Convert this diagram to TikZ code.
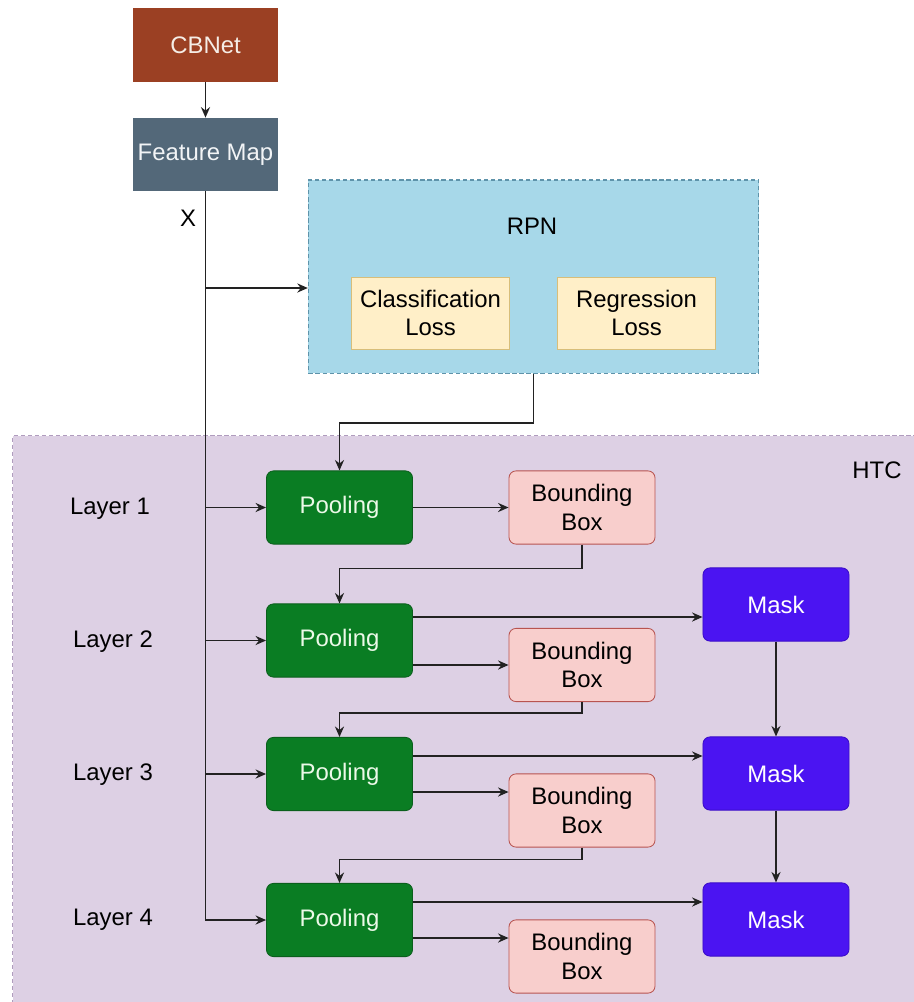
\documentclass[tikz,border=0pt]{standalone}
\usepackage{fontspec}
\setmainfont{Liberation Sans}
\usetikzlibrary{arrows.meta}

\definecolor{cbnetfill}{HTML}{9B4023}
\definecolor{cbnettext}{HTML}{F5EDE6}
\definecolor{fmapfill}{HTML}{536879}
\definecolor{fmaptext}{HTML}{F2F4F6}
\definecolor{rpnfill}{HTML}{A7D8E9}
\definecolor{rpnline}{HTML}{5E93AA}
\definecolor{lossfill}{HTML}{FFEFC8}
\definecolor{lossline}{HTML}{D8BE7A}
\definecolor{htcfill}{HTML}{DDD0E4}
\definecolor{htcline}{HTML}{B09CBE}
\definecolor{poolfill}{HTML}{0A7D23}
\definecolor{poolline}{HTML}{0A5F1C}
\definecolor{pooltext}{HTML}{ECF9E8}
\definecolor{bbfill}{HTML}{F8CECC}
\definecolor{bbline}{HTML}{B85450}
\definecolor{maskfill}{HTML}{4B14F2}
\definecolor{maskline}{HTML}{3A0CC8}
\definecolor{wire}{HTML}{222222}

\tikzset{
  every node/.style={font=\fontsize{17}{20.5}\selectfont, align=center, inner sep=0pt},
  sqbox/.style={draw=none, minimum width=3.63cm, minimum height=1.83cm},
  lossbox/.style={fill=lossfill, draw=lossline, line width=0.6pt, minimum width=3.93cm, minimum height=1.8cm},
  poolbox/.style={fill=poolfill, draw=poolline, line width=0.6pt, rounded corners=5pt,
    minimum width=3.65cm, minimum height=1.83cm, text=pooltext},
  bbbox/.style={fill=bbfill, draw=bbline, line width=0.6pt, rounded corners=5pt,
    minimum width=3.65cm, minimum height=1.83cm},
  maskbox/.style={fill=maskfill, draw=maskline, line width=0.6pt, rounded corners=5pt,
    minimum width=3.65cm, minimum height=1.83cm, text=white},
  wireline/.style={draw=wire, line width=1.1pt},
  arr/.style={wireline, -{Stealth[length=7.5pt, width=6.5pt, inset=2.5pt]}},
  label/.style={text=black},
}

\begin{document}
\begin{tikzpicture}[x=0.025cm, y=-0.025cm]
\useasboundingbox (0,0) rectangle (914,1002);
\clip (0,0) rectangle (914,1002);
\fill[white] (0,0) rectangle (914,1002);

% HTC container
\node[fill=htcfill, draw=htcline, line width=0.9pt, dash pattern=on 3pt off 2pt,
      minimum width=22.6cm, minimum height=14.5cm, anchor=north west] (htc) at (12,435) {};
\node[label] (htclabel) at (877,470) {HTC};

% backbone
\node[sqbox, fill=cbnetfill, minimum height=1.85cm, text=cbnettext] (cbnet) at (205.5,45) {CBNet};
\node[sqbox, fill=fmapfill, text=fmaptext] (fmap) at (205.5,154.5) {Feature Map};
\node[label] (xlabel) at (188,218) {X};

% RPN container
\node[fill=rpnfill, draw=rpnline, line width=0.9pt, dash pattern=on 3pt off 2pt,
      minimum width=11.25cm, minimum height=4.83cm] (rpn) at (533.5,276.5) {};
\node[label] (rpnlabel) at (532,226) {RPN};
\node[lossbox] (cls) at (430.5,313) {Classification\\Loss};
\node[lossbox] (reg) at (636.5,313) {Regression\\Loss};

% layer labels
\node[label] (l1) at (110,509) {Layer 1};
\node[label] (l2) at (113,642) {Layer 2};
\node[label] (l3) at (113,775) {Layer 3};
\node[label] (l4) at (113,920) {Layer 4};

% pooling stages
\node[poolbox] (pool1) at (339.5,507.5) {Pooling};
\node[poolbox] (pool2) at (339.5,640.5) {Pooling};
\node[poolbox] (pool3) at (339.5,774) {Pooling};
\node[poolbox] (pool4) at (339.5,920) {Pooling};

% bounding box heads
\node[bbbox] (bb1) at (582,507.5) {Bounding\\Box};
\node[bbbox] (bb2) at (582,665) {Bounding\\Box};
\node[bbbox] (bb3) at (582,810.5) {Bounding\\Box};
\node[bbbox] (bb4) at (582,956.5) {Bounding\\Box};

% mask heads
\node[maskbox] (mask1) at (776,604.5) {Mask};
\node[maskbox] (mask2) at (776,773.5) {Mask};
\node[maskbox] (mask3) at (776,919.5) {Mask};

% backbone flow
\draw[arr] (cbnet) -- (fmap);
\draw[arr] (fmap.south) |- (pool4.west);
\draw[arr] (fmap.south |- 0,288) -- (rpn.west |- 0,288);
\draw[arr] (fmap.south |- pool1.west) -- (pool1.west);
\draw[arr] (fmap.south |- pool2.west) -- (pool2.west);
\draw[arr] (fmap.south |- pool3.west) -- (pool3.west);

% proposals into the cascade
\draw[arr] (rpn.south) -- ++(0,49) -| (pool1.north);
\draw[arr] (bb1.south) -- ++(0,24) -| (pool2.north);
\draw[arr] (bb2.south) -- ++(0,11) -| (pool3.north);
\draw[arr] (bb3.south) -- ++(0,12) -| (pool4.north);

% pooling to heads
\draw[arr] (pool1) -- (bb1);
\draw[arr] (pool2.east |- 0,617) -- (mask1.west |- 0,617);
\draw[arr] (pool2.east |- bb2.west) -- (bb2.west);
\draw[arr] (pool3.east |- 0,756) -- (mask2.west |- 0,756);
\draw[arr] (pool3.east |- 0,792) -- (bb3.west |- 0,792);
\draw[arr] (pool4.east |- 0,902) -- (mask3.west |- 0,902);
\draw[arr] (pool4.east |- 0,938) -- (bb4.west |- 0,938);

% mask information flow
\draw[arr] (mask1) -- (mask2);
\draw[arr] (mask2) -- (mask3);
\end{tikzpicture}
\end{document}
